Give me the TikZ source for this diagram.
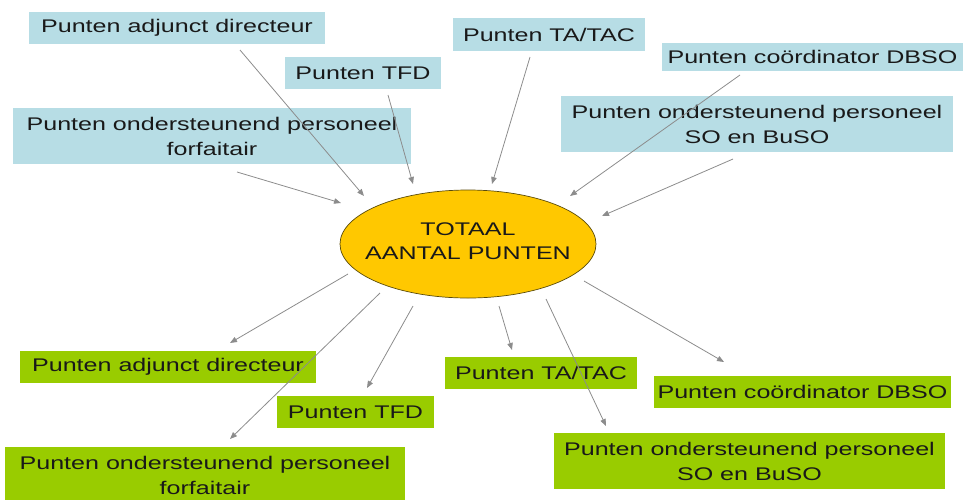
\documentclass[tikz,border=0pt]{standalone}
\usepackage{fontspec}
\setmainfont{Liberation Sans}[FakeStretch=1.37]
\usetikzlibrary{arrows.meta,shapes.geometric}
\definecolor{bluebox}{RGB}{183,221,229}
\definecolor{greenbox}{RGB}{153,204,0}
\definecolor{ellfill}{RGB}{255,200,0}
\definecolor{ellline}{RGB}{90,75,10}
\definecolor{arrgray}{RGB}{140,140,140}
\tikzset{
  boxtext/.style={font=\fontsize{18.3}{25}\selectfont, text=black!90, inner sep=0pt, align=center},
  bluenode/.style={boxtext, fill=bluebox},
  greennode/.style={boxtext, fill=greenbox},
  conn/.style={draw=arrgray, line width=0.8pt, -{Triangle[length=7pt,width=5.5pt]}},
}
\begin{document}
\begin{tikzpicture}[x=1pt,y=-1pt]
\useasboundingbox (0,0) rectangle (977,499);
% centre ellipse
\node[ellipse, draw=ellline, line width=0.7pt, fill=ellfill, minimum width=256, minimum height=108, inner sep=0pt] (tot) at (468,244) {};
\node[boxtext, font=\fontsize{18.3}{24}\selectfont] (totlabel) at ([yshift=3pt]tot.center) {TOTAAL\\AANTAL PUNTEN};
% blue boxes
\node[bluenode, minimum width=296, minimum height=32] (b1) at (177,28) {Punten adjunct directeur};
\node[bluenode, minimum width=156, minimum height=32] (b2) at (363,73) {Punten TFD};
\node[bluenode, minimum width=398, minimum height=56] (b3) at (212,136) {Punten ondersteunend personeel\\forfaitair};
\node[bluenode, minimum width=192, minimum height=33] (b4) at (549,34.5) {Punten TA/TAC};
\node[bluenode, minimum width=301, minimum height=28] (b5) at (812.5,56.5) {Punten coördinator DBSO};
\node[bluenode, minimum width=392, minimum height=56] (b6) at (757,124) {Punten ondersteunend personeel\\SO en BuSO};
% green boxes
\node[greennode, minimum width=296, minimum height=32] (g1) at (168,367) {Punten adjunct directeur};
\node[greennode, minimum width=157, minimum height=32] (g2) at (355.5,412) {Punten TFD};
\node[greennode, minimum width=400, minimum height=56] (g3) at (205,475) {Punten ondersteunend personeel\\forfaitair};
\node[greennode, minimum width=192, minimum height=32] (g4) at (541,373) {Punten TA/TAC};
\node[greennode, minimum width=297, minimum height=32] (g5) at (802.5,392) {Punten coördinator DBSO};
\node[greennode, minimum width=391, minimum height=56] (g6) at (749.5,461) {Punten ondersteunend personeel\\SO en BuSO};
% connector end points
\coordinate (a1s) at (240,50);  \coordinate (a1e) at (364,196);
\coordinate (a2s) at (388,95);  \coordinate (a2e) at (413,184);
\coordinate (a3s) at (237,172); \coordinate (a3e) at (341,203);
\coordinate (a4s) at (530,57);  \coordinate (a4e) at (492,184);
\coordinate (a5s) at (740,75);  \coordinate (a5e) at (570,196);
\coordinate (a6s) at (733,159); \coordinate (a6e) at (602,216);
\coordinate (c1s) at (348,274); \coordinate (c1e) at (230,343);
\coordinate (c2s) at (380,293); \coordinate (c2e) at (230,439);
\coordinate (c3s) at (413,306); \coordinate (c3e) at (367,388);
\coordinate (c4s) at (499,306); \coordinate (c4e) at (512,350);
\coordinate (c5s) at (546,299); \coordinate (c5e) at (606,426);
\coordinate (c6s) at (584,281); \coordinate (c6e) at (724,362);
% connectors
\foreach \n in {a1,a2,a3,a4,a5,a6,c1,c2,c3,c4,c5,c6}
  \draw[conn] (\n s) -- (\n e);
\end{tikzpicture}
\end{document}
